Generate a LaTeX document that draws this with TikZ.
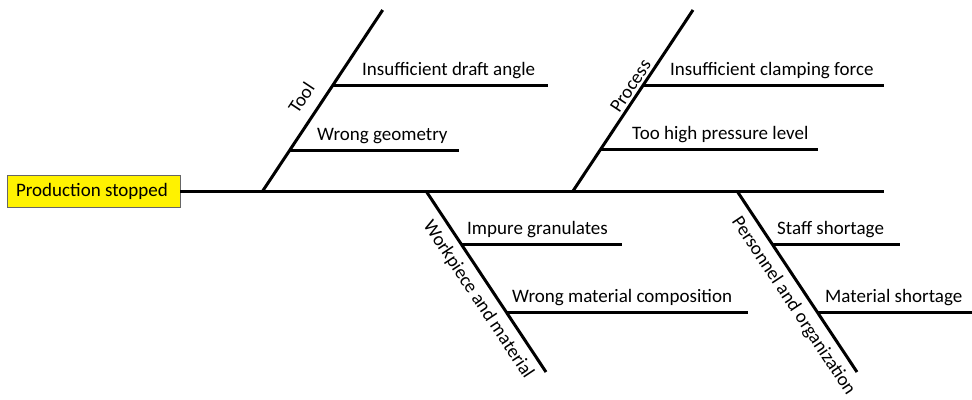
\documentclass[tikz,border=0pt]{standalone}
\usepackage{fontspec}
\setmainfont{Carlito}
\begin{document}
\begin{tikzpicture}[x=1pt,y=-1pt,
  bone/.style={line width=3pt},
  txt/.style={anchor=base west,inner sep=0pt,font=\fontsize{19}{22}\selectfont},
  cat/.style={font=\fontsize{19}{22}\selectfont,sloped},
  effect/.style={draw=black!60,fill=yellow,line width=0.8pt,minimum width=173pt,minimum height=32pt,inner sep=0pt,font=\fontsize{19}{22}\selectfont}]
\useasboundingbox (0,0) rectangle (972,399);
% effect
\node[effect] (eff) at (93.5,191) {\hspace*{-3pt}Production stopped};
\coordinate (spineEnd) at (884,191);
\draw[bone] (eff.east) -- (spineEnd);
% bone coordinates
\coordinate (toolB) at (262.7,191); \coordinate (toolT) at (382.7,10);
\coordinate (procB) at (573,191); \coordinate (procT) at (693,10);
\coordinate (workT) at (426,191); \coordinate (workB) at (546,372);
\coordinate (persT) at (737,191); \coordinate (persB) at (857,372);
% Tool
\draw[bone] (toolB) -- node[cat,above,inner sep=11pt,pos=0.455] (lTool) {Tool} (toolT);
\coordinate (t1a) at (333,85); \coordinate (t1b) at (548,85);
\coordinate (t2a) at (290,150); \coordinate (t2b) at (459,150);
\draw[bone] (t1a) -- (t1b);
\draw[bone] (t2a) -- (t2b);
\node[txt] (t1) at (362,75.5) {Insufficient draft angle};
\node[txt] (t2) at (317,140.5) {Wrong geometry};
% Process
\draw[bone] (procB) -- node[cat,above,inner sep=2.5pt,pos=0.55] (lProc) {Process} (procT);
\coordinate (p1a) at (643.3,85); \coordinate (p1b) at (884,85);
\coordinate (p2a) at (600.9,149); \coordinate (p2b) at (818,149);
\draw[bone] (p1a) -- (p1b);
\draw[bone] (p2a) -- (p2b);
\node[txt] (p1) at (670,75.5) {Insufficient clamping force};
\node[txt] (p2) at (632,139.5) {Too high pressure level};
% Workpiece
\draw[bone] (workT) -- node[cat,below,inner sep=7pt,pos=0.55] (lWork) {Workpiece and material} (workB);
\coordinate (w1a) at (461.2,244); \coordinate (w1b) at (622,244);
\coordinate (w2a) at (506.2,312); \coordinate (w2b) at (748,312);
\draw[bone] (w1a) -- (w1b);
\draw[bone] (w2a) -- (w2b);
\node[txt] (w1) at (467,234.5) {Impure granulates};
\node[txt] (w2) at (512,302.5) {Wrong material composition};
% Personnel
\draw[bone] (persT) -- node[cat,below,inner sep=7pt,pos=0.585] (lPers) {Personnel and organization} (persB);
\coordinate (s1a) at (772.2,244); \coordinate (s1b) at (900,244);
\coordinate (s2a) at (817.2,312); \coordinate (s2b) at (972,312);
\draw[bone] (s1a) -- (s1b);
\draw[bone] (s2a) -- (s2b);
\node[txt] (s1) at (777,234.5) {Staff shortage};
\node[txt] (s2) at (825,302.5) {Material shortage};
\end{tikzpicture}
\end{document}
